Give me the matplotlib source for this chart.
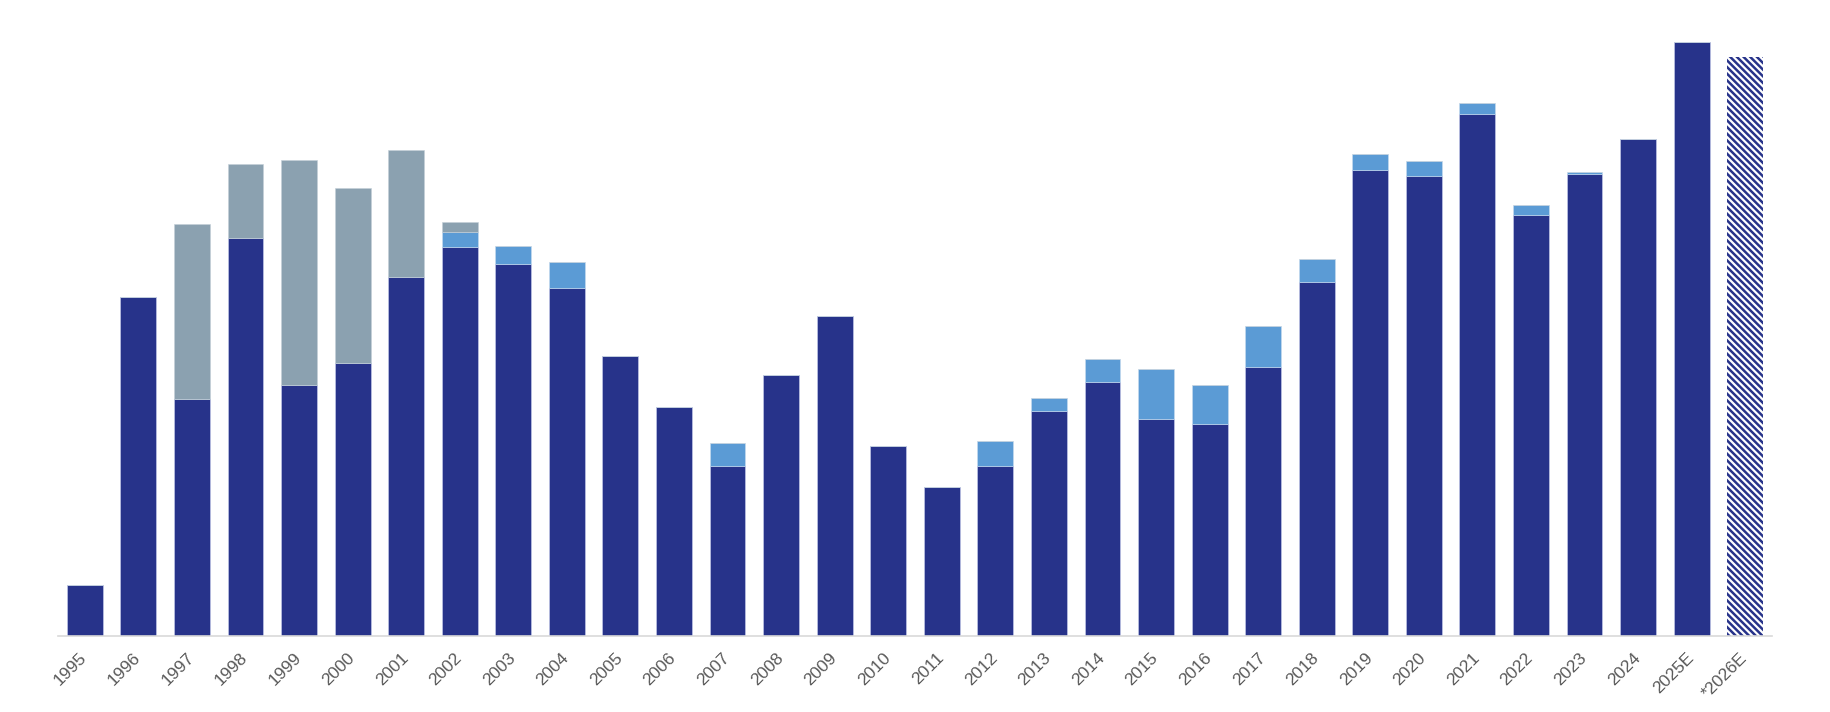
import matplotlib
matplotlib.use("Agg")
import matplotlib.pyplot as plt
import matplotlib.transforms as mtransforms
import numpy as np

years = ["1995", "1996", "1997", "1998", "1999", "2000", "2001", "2002", "2003", "2004",
         "2005", "2006", "2007", "2008", "2009", "2010", "2011", "2012", "2013", "2014",
         "2015", "2016", "2017", "2018", "2019", "2020", "2021", "2022", "2023", "2024",
         "2025E", "*2026E"]

# base series (dark blue); last value is the hatched estimate
base = [51, 339, 237, 398, 251, 273, 359, 389, 372, 348,
        280, 229, 170, 261, 320, 190, 149, 170, 225, 254,
        217, 212, 269, 354, 466, 460, 522, 421, 462, 497,
        594, 579]

# light blue addition on top of base
extra_blue = [0, 0, 0, 0, 0, 0, 0, 15, 18, 26,
              0, 0, 23, 0, 0, 0, 0, 25, 13, 23,
              50, 39, 41, 23, 16, 15, 11, 10, 2, 0,
              0, 0]

# grey addition on top
extra_grey = [0, 0, 175, 74, 225, 175, 127, 10, 0, 0,
              0, 0, 0, 0, 0, 0, 0, 0, 0, 0,
              0, 0, 0, 0, 0, 0, 0, 0, 0, 0,
              0, 0]

DARK = "#27338A"
LIGHT = "#5B9BD5"
GREY = "#8BA1B0"

plt.rcParams['font.family'] = ['Liberation Sans', 'DejaVu Sans']
plt.rcParams['hatch.linewidth'] = 1.8

W, H = 1830, 712
fig = plt.figure(figsize=(W / 100, H / 100), dpi=100)
ax = fig.add_axes([58 / W, (H - 636) / H, (1772 - 58) / W, 636 / H])

x = np.arange(len(years))
base_a = np.array(base, dtype=float)
blue_a = np.array(extra_blue, dtype=float)
grey_a = np.array(extra_grey, dtype=float)
bw = 0.67
n = len(years)
solid = x < n - 1

ax.bar(x[solid], base_a[solid], width=bw, color=DARK, edgecolor="#B8BEE0", linewidth=0.6, zorder=2)
ax.bar(x[solid], blue_a[solid], bottom=base_a[solid], width=bw, color=LIGHT,
       edgecolor="#C9DDF0", linewidth=0.4, zorder=2)
ax.bar(x[solid], grey_a[solid], bottom=(base_a + blue_a)[solid], width=bw, color=GREY,
       edgecolor="#C4CFD7", linewidth=0.4, zorder=2)
# hatched estimate
ax.bar(x[~solid], base_a[~solid], width=bw, color="white", edgecolor=DARK,
       hatch="\\\\\\\\\\", linewidth=0, zorder=2)

ax.set_xlim(-0.5, n - 0.5)
ax.set_ylim(0, 636)

for s in ["top", "left", "right"]:
    ax.spines[s].set_visible(False)
ax.spines["bottom"].set_color("#D9D9D9")
ax.spines["bottom"].set_linewidth(1.2)
ax.set_yticks([])
ax.set_xticks(x)
ax.set_xticklabels(years, rotation=45, ha="right", fontsize=12.5, color="#595959")
ax.tick_params(axis="x", length=0, pad=10)
offset = mtransforms.ScaledTranslation(5 / 100, 0, fig.dpi_scale_trans)
for lbl in ax.get_xticklabels():
    lbl.set_transform(lbl.get_transform() + offset)

fig.savefig("out.png", dpi=100, facecolor="white")
